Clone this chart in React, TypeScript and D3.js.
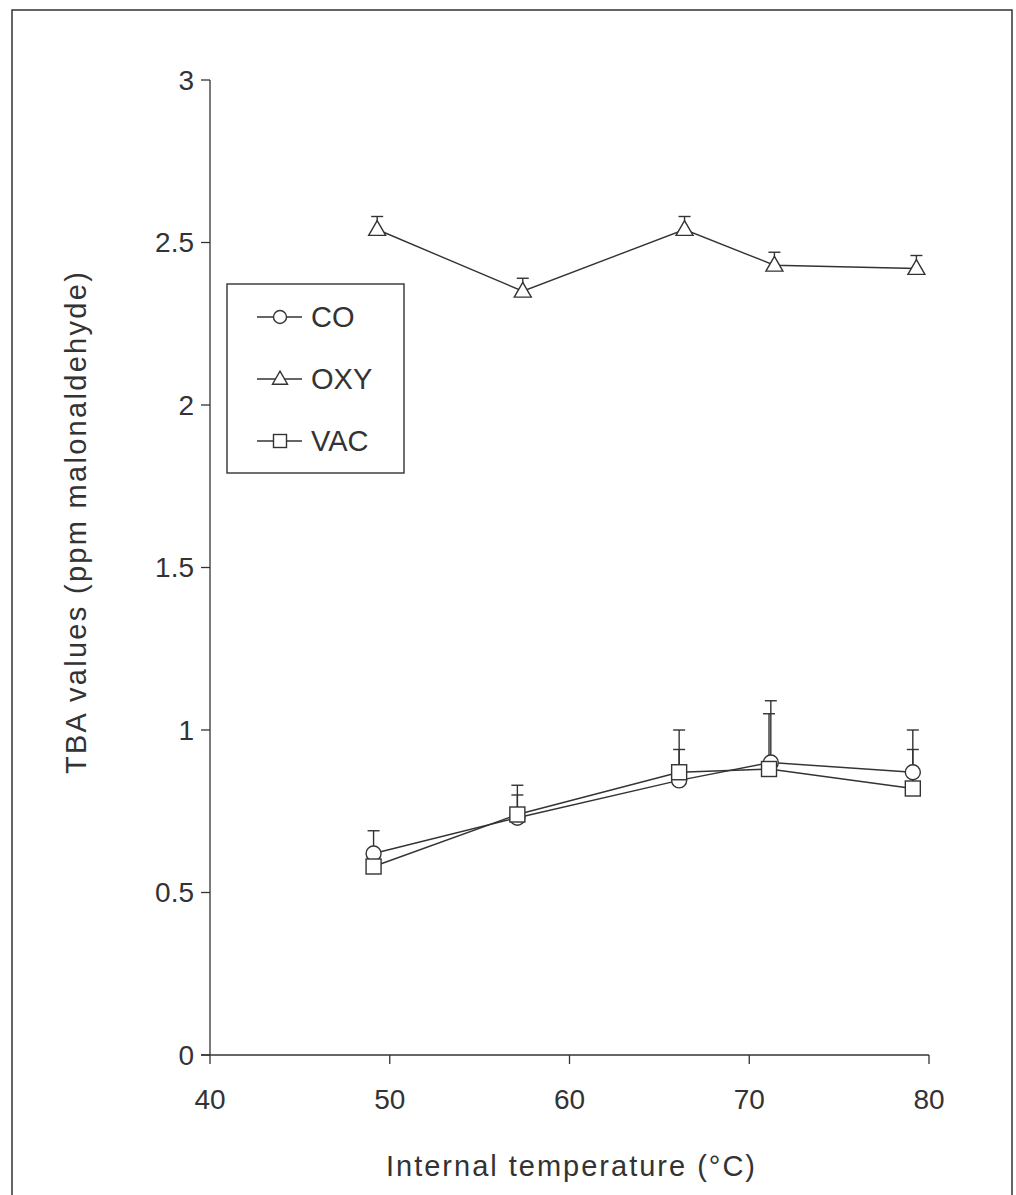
import React from "react";
import * as d3 from "d3";

// temperatures (°C) and TBA means, with upper error-bar ends
const coTemp = [49.1, 57.1, 66.1, 71.2, 79.1];
const coValue = [0.62, 0.73, 0.845, 0.9, 0.87];
const coUpper = [0.69, 0.8, 0.94, 1.09, 0.94];

const oxyTemp = [49.3, 57.4, 66.4, 71.4, 79.3];
const oxyValue = [2.54, 2.35, 2.54, 2.43, 2.42];
const oxyUpper = [2.58, 2.39, 2.58, 2.47, 2.46];

const vacTemp = [49.1, 57.1, 66.1, 71.1, 79.1];
const vacValue = [0.58, 0.74, 0.87, 0.88, 0.82];
const vacUpper = [0.59, 0.83, 1.0, 1.05, 1.0];

const xTicks = [40, 50, 60, 70, 80];
const yTicks = [0, 0.5, 1, 1.5, 2, 2.5, 3];
const yTickLabels = ["0", "0.5", "1", "1.5", "2", "2.5", "3"];

const legendNames = ["CO", "OXY", "VAC"];

const ink = "#333";
const font = "'Liberation Sans', Arial, sans-serif";

type Shape = "circle" | "triangle" | "square";

const Marker = ({ x, y, shape, s }: { x: number; y: number; shape: Shape; s: number }) => {
  if (shape === "circle")
    return <circle cx={x} cy={y} r={s / 2} fill="#fff" stroke={ink} strokeWidth={1.4} />;
  if (shape === "square")
    return (
      <rect x={x - s / 2} y={y - s / 2} width={s} height={s} fill="#fff" stroke={ink} strokeWidth={1.4} />
    );
  const h = (s * Math.sqrt(3)) / 2;
  const p = `M${x},${y - h * 0.6}L${x + s / 2},${y + h * 0.4}L${x - s / 2},${y + h * 0.4}Z`;
  return <path d={p} fill="#fff" stroke={ink} strokeWidth={1.4} />;
};

export default function App() {
  const width = 1016;
  const height = 1195;

  const x = d3.scaleLinear().domain([40, 80]).range([210, 929]);
  const y = d3.scaleLinear().domain([0, 3]).range([1055, 80]);

  const series = [
    { name: "CO", t: coTemp, v: coValue, u: coUpper, shape: "circle" as Shape },
    { name: "OXY", t: oxyTemp, v: oxyValue, u: oxyUpper, shape: "triangle" as Shape },
    { name: "VAC", t: vacTemp, v: vacValue, u: vacUpper, shape: "square" as Shape },
  ];

  const line = d3
    .line<[number, number]>()
    .x((d) => x(d[0]))
    .y((d) => y(d[1]));

  const [x0, x1] = x.range();
  const [y0, y1] = y.range();

  return (
    <svg
      width={width}
      height={height}
      style={{ position: "absolute", left: 0, top: 0, background: "#fff" }}
      fontFamily={font}
    >
      {/* outer frame */}
      <path d="M12,1200V10H1012V1200" fill="none" stroke={ink} strokeWidth={1.5} />

      {/* y axis */}
      <line x1={x0} x2={x0} y1={y0} y2={y1} stroke={ink} strokeWidth={1.3} />
      {yTicks.map((t, i) => (
        <g key={t}>
          <line x1={x0 - 9} x2={x0} y1={y(t)} y2={y(t)} stroke={ink} strokeWidth={1.3} />
          <text x={x0 - 16} y={y(t)} dy="0.35em" textAnchor="end" fontSize={28} fill={ink}>
            {yTickLabels[i]}
          </text>
        </g>
      ))}

      {/* x axis */}
      <line x1={x0 - 9} x2={x1} y1={y0} y2={y0} stroke={ink} strokeWidth={1.3} />
      {xTicks.map((t) => (
        <g key={t}>
          <line x1={x(t)} x2={x(t)} y1={y0} y2={y0 + 9} stroke={ink} strokeWidth={1.3} />
          <text x={x(t)} y={y0 + 54} textAnchor="middle" fontSize={28} fill={ink}>
            {t}
          </text>
        </g>
      ))}

      <text x={(x0 + x1) / 2 + 2} y={1176} textAnchor="middle" fontSize={29} fill={ink} letterSpacing={2}>
        Internal temperature (°C)
      </text>
      <text
        transform={`translate(86, 522) rotate(-90)`}
        textAnchor="middle"
        fontSize={29}
        fill={ink}
        letterSpacing={2.3}
      >
        TBA values (ppm malonaldehyde)
      </text>

      {/* series lines */}
      {series.map((s) => (
        <path
          key={s.name + "l"}
          d={line(s.t.map((t, i) => [t, s.v[i]]) as [number, number][]) || ""}
          fill="none"
          stroke={ink}
          strokeWidth={1.4}
        />
      ))}

      {/* upper error bars */}
      {series.map((s) =>
        s.t.map((t, i) => (
          <g key={s.name + "e" + i} stroke={ink} strokeWidth={1.4}>
            <line x1={x(t)} x2={x(t)} y1={y(s.v[i])} y2={y(s.u[i])} />
            <line x1={x(t) - 6} x2={x(t) + 6} y1={y(s.u[i])} y2={y(s.u[i])} />
          </g>
        ))
      )}

      {/* markers */}
      {series.map((s) =>
        s.t.map((t, i) => (
          <Marker key={s.name + "m" + i} x={x(t)} y={y(s.v[i])} shape={s.shape} s={s.shape === "triangle" ? 17 : 15} />
        ))
      )}

      {/* legend */}
      <rect x={227} y={284} width={177} height={189} fill="#fff" stroke={ink} strokeWidth={1.4} />
      {legendNames.map((n, i) => {
        const ly = 317 + i * 62;
        return (
          <g key={n}>
            <line x1={257} x2={302} y1={ly} y2={ly} stroke={ink} strokeWidth={1.4} />
            <Marker x={280} y={ly} shape={series[i].shape} s={series[i].shape === "triangle" ? 15 : 13} />
            <text x={311} y={ly} dy="0.36em" fontSize={29} fill={ink}>
              {n}
            </text>
          </g>
        );
      })}
    </svg>
  );
}
